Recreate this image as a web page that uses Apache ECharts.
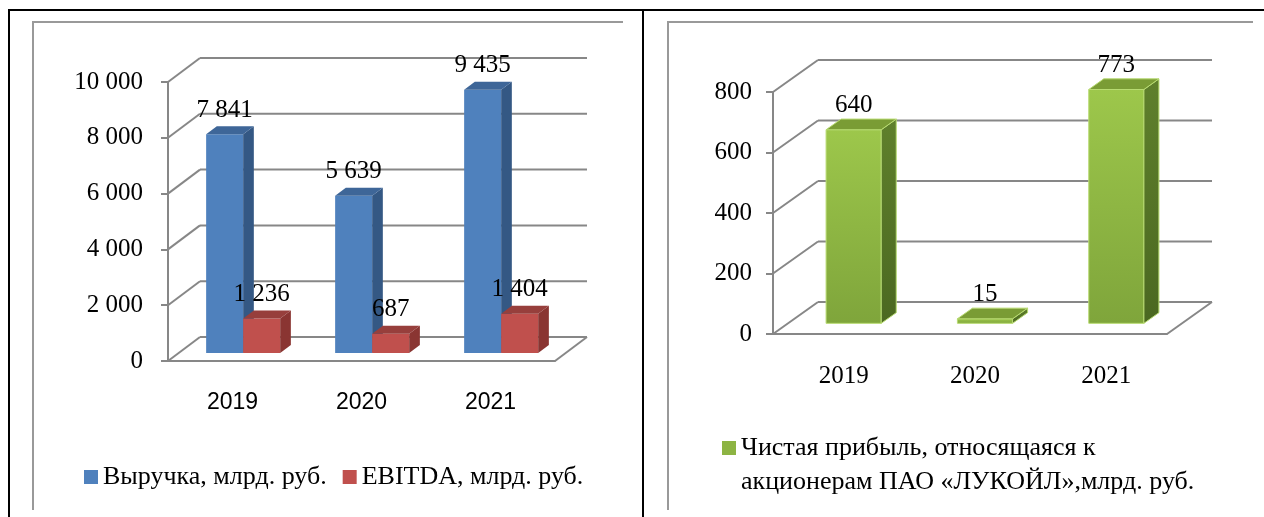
<!DOCTYPE html>
<html>
<head>
<meta charset="utf-8">
<script src="https://cdn.jsdelivr.net/npm/echarts@6/dist/echarts.min.js"></script>
<style>
  html, body { margin: 0; padding: 0; background: #fff; }
  #chart { width: 1264px; height: 517px; }
</style>
</head>
<body>
<div id="chart"></div>
<script>
const years = ['2019', '2020', '2021']
const revenue = [7841, 5639, 9435]
const ebitda = [1236, 687, 1404]
const netProfit = [640, 15, 773]
const leftTicks = [0, 2000, 4000, 6000, 8000, 10000]
const rightTicks = [0, 200, 400, 600, 800]

const serif = 'Liberation Serif'
const grey = '#878787'
const fs = 25

function fmt(v) {
  return String(v).replace(/\B(?=(\d{3})+(?!\d))/g, ' ')
}

// back wall + left wall lines for a pseudo-3D grid
function wallRender(dx, dy) {
  return function(params, api) {
    const cs = params.coordSys
    const v = api.value(1)
    const y = api.coord([0, v])[1]
    const style = { stroke: grey, lineWidth: 2 }
    const children = [
      { type: 'line', shape: { x1: cs.x, y1: y, x2: cs.x + dx, y2: y + dy }, style },
      { type: 'line', shape: { x1: cs.x + dx, y1: y + dy, x2: cs.x + cs.width + dx, y2: y + dy }, style }
    ]
    if (v === 0) {
      children.push({ type: 'line', shape: { x1: cs.x + cs.width, y1: y, x2: cs.x + cs.width + dx, y2: y + dy }, style })
    }
    return { type: 'group', children }
  }
}

// box-shaped bar: front face, side, top and a value label
function barRender(idx, count, ratio, dx, dy, c) {
  return function(params, api) {
    const cat = api.value(0)
    const val = api.value(1)
    const band = api.size([1, 0])[0]
    const w = band * ratio
    const base = api.coord([cat, 0])
    const top = api.coord([cat, val])
    const ox = dx / 3, oy = dy / 3
    const bx = dx / 3, by = dy / 3
    const x0 = base[0] - w * count / 2 + idx * w + ox
    const y0 = base[1] + oy
    const y1 = top[1] + oy
    const lw = c.edge ? 1 : 0
    return {
      type: 'group',
      children: [
        { type: 'rect', shape: { x: x0, y: y1, width: w, height: y0 - y1 }, style: { fill: c.front, stroke: c.edge, lineWidth: lw } },
        { type: 'polygon', shape: { points: [[x0 + w, y1], [x0 + w + bx, y1 + by], [x0 + w + bx, y0 + by], [x0 + w, y0]] }, style: { fill: c.side, stroke: c.edge, lineWidth: lw } },
        { type: 'polygon', shape: { points: [[x0, y1], [x0 + bx, y1 + by], [x0 + w + bx, y1 + by], [x0 + w, y1]] }, style: { fill: c.top, stroke: c.edge, lineWidth: lw } },
        { type: 'text', x: x0 + w / 2, y: y1 - 24, style: { text: fmt(val), fill: '#000', font: fs + 'px "' + serif + '"', align: 'center', verticalAlign: 'middle' } }
      ]
    }
  }
}

const blue = { front: '#4F81BD', side: '#345884', top: '#3E6698' }
const red = { front: '#C0504D', side: '#8A3532', top: '#973F3C' }
const green = {
  front: { type: 'linear', x: 0, y: 0, x2: 0, y2: 1, colorStops: [{ offset: 0, color: '#9DC74B' }, { offset: 1, color: '#7FA53B' }] },
  side: { type: 'linear', x: 0, y: 0, x2: 0, y2: 1, colorStops: [{ offset: 0, color: '#5F802C' }, { offset: 1, color: '#4B6821' }] },
  top: '#7A9C35',
  edge: '#B8DB72'
}

const chart = echarts.init(document.getElementById('chart'))

const yLabel = { color: '#000', fontFamily: serif, fontSize: fs }

chart.setOption({
  animation: false,
  graphic: [
    { type: 'polyline', shape: { points: [[9, 517], [9, 10], [1264, 10]] }, style: { stroke: '#000', lineWidth: 2, fill: null } },
    { type: 'line', shape: { x1: 643, y1: 10, x2: 643, y2: 517 }, style: { stroke: '#000', lineWidth: 2 } },
    { type: 'polyline', shape: { points: [[33, 510], [33, 22], [623, 22]] }, style: { stroke: '#999', lineWidth: 2, fill: null } },
    { type: 'polyline', shape: { points: [[668, 510], [668, 22], [1253, 22]] }, style: { stroke: '#999', lineWidth: 2, fill: null } }
  ],
  grid: [
    { left: 168, top: 82, width: 387, height: 279 },
    { left: 773, top: 92, width: 394, height: 242 }
  ],
  xAxis: [
    {
      gridIndex: 0, type: 'category', data: years,
      axisLine: { lineStyle: { color: grey, width: 2 } },
      axisTick: { length: 7, lineStyle: { color: grey, width: 2 } },
      axisLabel: { color: '#000', fontFamily: 'Liberation Sans', fontSize: 23, margin: 30 }
    },
    {
      gridIndex: 1, type: 'category', data: years,
      axisLine: { lineStyle: { color: grey, width: 2 } },
      axisTick: { length: 7, lineStyle: { color: grey, width: 2 } },
      axisLabel: { color: '#000', fontFamily: serif, fontSize: fs, margin: 30, padding: [0, 0, 0, 10] }
    }
  ],
  yAxis: [
    {
      gridIndex: 0, type: 'value', min: 0, max: 10000, interval: 2000,
      axisLine: { show: true, lineStyle: { color: grey, width: 2 } },
      axisTick: { show: true, length: 7, lineStyle: { color: grey, width: 2 } },
      splitLine: { show: false },
      axisLabel: Object.assign({ margin: 25, formatter: fmt }, yLabel)
    },
    {
      gridIndex: 1, type: 'value', min: 0, max: 800, interval: 200,
      axisLine: { show: true, lineStyle: { color: grey, width: 2 } },
      axisTick: { show: true, length: 7, lineStyle: { color: grey, width: 2 } },
      splitLine: { show: false },
      axisLabel: Object.assign({ margin: 21 }, yLabel)
    }
  ],
  legend: [
    {
      data: ['Выручка, млрд. руб.', 'EBITDA, млрд. руб.'],
      left: 79, top: 459, itemWidth: 14, itemHeight: 14, itemGap: 16,
      icon: 'rect',
      textStyle: { color: '#000', fontFamily: serif, fontSize: 26 }
    },
    {
      data: ['Чистая прибыль, относящаяся к\nакционерам ПАО «ЛУКОЙЛ»,млрд. руб.'],
      left: 717, top: 426, itemWidth: 14, itemHeight: 48,
      // square at the top, a tiny dot stretches the box so the square sits on line one
      icon: 'path://M0,0h14v14h-14zM0,47.99h0.01v0.01h-0.01z',
      textStyle: { color: '#000', fontFamily: serif, fontSize: 26, lineHeight: 34 }
    }
  ],
  series: [
    {
      type: 'custom', xAxisIndex: 0, yAxisIndex: 0, z: 1, silent: true,
      renderItem: wallRender(32, -24),
      data: leftTicks.map(v => [0, v])
    },
    {
      type: 'custom', xAxisIndex: 1, yAxisIndex: 1, z: 1, silent: true,
      renderItem: wallRender(45, -32),
      data: rightTicks.map(v => [0, v])
    },
    {
      name: 'Выручка, млрд. руб.', type: 'custom', xAxisIndex: 0, yAxisIndex: 0, z: 2,
      itemStyle: { color: blue.front },
      renderItem: barRender(0, 2, 0.287, 32, -24, blue),
      data: revenue.map((v, i) => [i, v])
    },
    {
      name: 'EBITDA, млрд. руб.', type: 'custom', xAxisIndex: 0, yAxisIndex: 0, z: 3,
      itemStyle: { color: red.front },
      renderItem: barRender(1, 2, 0.287, 32, -24, red),
      data: ebitda.map((v, i) => [i, v])
    },
    {
      name: 'Чистая прибыль, относящаяся к\nакционерам ПАО «ЛУКОЙЛ»,млрд. руб.', type: 'custom', xAxisIndex: 1, yAxisIndex: 1, z: 2,
      itemStyle: { color: '#8DB443' },
      renderItem: barRender(0, 1, 0.42, 45, -32, green),
      data: netProfit.map((v, i) => [i, v])
    }
  ]
})
</script>
</body>
</html>
